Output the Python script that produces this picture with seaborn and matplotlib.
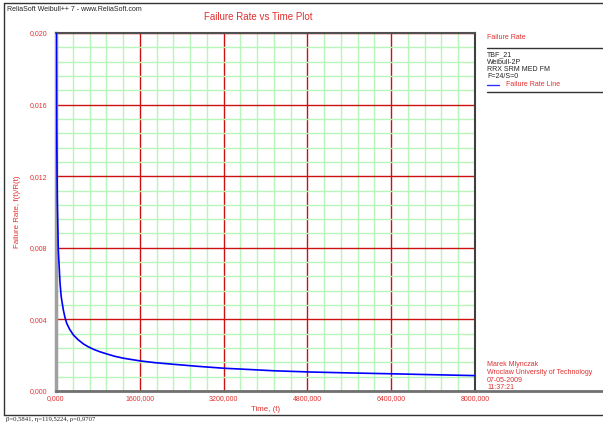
import matplotlib
matplotlib.use('Agg')
import matplotlib.pyplot as plt
from matplotlib.lines import Line2D
from matplotlib.ticker import MultipleLocator, FixedLocator, FixedFormatter
import seaborn as sns

# Failure rate curve
time_vals = [5500, 12000, 25000, 44000, 77000, 100000, 140000, 170000, 205000,
             260000, 332000, 420000, 523000, 610000, 715000, 840000, 970000,
             1120000, 1290000, 1610000, 1900000, 2250000, 2700000, 3210000,
             3700000, 4160000, 4870000, 5600000, 6430000, 7200000, 8000000]
rate_vals = [0.0200, 0.0148, 0.01067, 0.00788, 0.00602, 0.00525, 0.00453,
             0.00412, 0.00378, 0.00345, 0.00313, 0.00287, 0.00263, 0.00248,
             0.00233, 0.00219, 0.00207, 0.00194, 0.00183, 0.00168, 0.00158,
             0.00149, 0.00138, 0.00127, 0.00120, 0.00113, 0.00106, 0.00101,
             0.00096, 0.00091, 0.00086]

x_ticks = [0, 1600000, 3200000, 4800000, 6400000, 8000000]
x_labels = ['0,000', '1600,000', '3200,000', '4800,000', '6400,000', '8000,000']
y_ticks = [0.0, 0.004, 0.008, 0.012, 0.016, 0.020]
y_labels = ['0,000', '0,004', '0,008', '0,012', '0,016', '0,020']

legend_lines = ['TBF_21', 'Weibull-2P', 'RRX SRM MED FM', 'F=24/S=0']
footer_lines = ['Marek Mlynczak', 'Wroclaw University of Technology',
                '07-05-2009', '11:37:21']
params_text = '\u03b2=0,5841, \u03b7=119,5224, \u03c1=0,9707'

sns.set_style('white')
plt.rcParams['font.family'] = ['Liberation Sans', 'DejaVu Sans']

RED = '#e03030'
W, H = 603, 425


def fx(px):
    return px / W


def fy(py):
    return 1 - py / H


fig = plt.figure(figsize=(6.03, 4.25), dpi=100)
ax = fig.add_axes([fx(56), fy(391), fx(475) - fx(56), fy(33) - fy(391)])

sns.lineplot(x=time_vals, y=rate_vals, ax=ax, color='#0000ff', lw=1.2,
             legend=False, zorder=5)

ax.set_xlim(0, 8000000)
ax.set_ylim(0, 0.020)
ax.xaxis.set_major_locator(FixedLocator(x_ticks))
ax.xaxis.set_major_formatter(FixedFormatter(x_labels))
ax.yaxis.set_major_locator(FixedLocator(y_ticks))
ax.yaxis.set_major_formatter(FixedFormatter(y_labels))
ax.xaxis.set_minor_locator(MultipleLocator(320000))
ax.yaxis.set_minor_locator(MultipleLocator(0.0008))

ax.set_axisbelow(True)
ax.grid(which='minor', color='#b8f5b8', lw=1.0)
ax.grid(which='major', color='#cc1111', lw=1.0)

ax.tick_params(which='minor', length=0)
ax.tick_params(axis='y', which='major', length=2.5, width=1, color=RED,
               labelcolor=RED, labelsize=5, pad=4)
ax.tick_params(axis='x', which='major', length=2, width=1, color='#555555',
               labelcolor=RED, labelsize=5, pad=1)

ax.spines['left'].set_color('#a0a0a0')
ax.spines['left'].set_linewidth(2.5)
ax.spines['bottom'].set_color('#707070')
ax.spines['bottom'].set_linewidth(2)
ax.spines['top'].set_color('#505050')
ax.spines['top'].set_linewidth(1.5)
ax.spines['right'].set_color('#404040')
ax.spines['right'].set_linewidth(1.5)

ax.set_xlabel('Time, (t)', color=RED, fontsize=5.7, labelpad=3)
fig.text(fx(18), fy(212), 'Failure Rate, f(t)/R(t)', color=RED, fontsize=5.7,
         rotation=90, ha='center', va='center')

# bottom axis line runs on to the right edge
fig.add_artist(Line2D([fx(475), fx(603)], [fy(391), fy(391)], color='#707070', lw=2))

# outer frame
fig.add_artist(Line2D([fx(4), fx(4)], [fy(3), fy(415)], color='#333333', lw=1))
fig.add_artist(Line2D([fx(4), fx(603)], [fy(3), fy(3)], color='#333333', lw=1))
fig.add_artist(Line2D([fx(4), fx(603)], [fy(415), fy(415)], color='#333333', lw=1))

fig.text(fx(7), fy(9.5), 'ReliaSoft Weibull++ 7 - www.ReliaSoft.com', fontsize=5,
         color='#222222', va='center')
fig.text(fx(258), fy(17.5), 'Failure Rate vs Time Plot', fontsize=7, color=RED,
         ha='center', va='center')

# legend block
fig.text(fx(487), fy(37.5), 'Failure Rate', fontsize=5, color=RED, va='center')
fig.add_artist(Line2D([fx(487), fx(603)], [fy(48), fy(48)], color='#333333', lw=1))
for i, s in enumerate(legend_lines):
    fig.text(fx(487), fy(54.5 + i * 7.5), s, fontsize=5, color='#222222', va='center')
fig.add_artist(Line2D([fx(487), fx(499)], [fy(85), fy(85)], color='#3030ff', lw=1))
fig.text(fx(506), fy(85), 'Failure Rate Line', fontsize=5, color=RED, va='center')
fig.add_artist(Line2D([fx(487), fx(603)], [fy(92), fy(92)], color='#333333', lw=1))

for i, s in enumerate(footer_lines):
    fig.text(fx(487), fy(365 + i * 7.5), s, fontsize=5, color=RED, va='center')

fig.text(fx(6), fy(420), params_text, fontsize=4.8, color='#222222', va='center',
         family=['Liberation Serif', 'DejaVu Serif'])

plt.savefig('out.png', dpi=100)
